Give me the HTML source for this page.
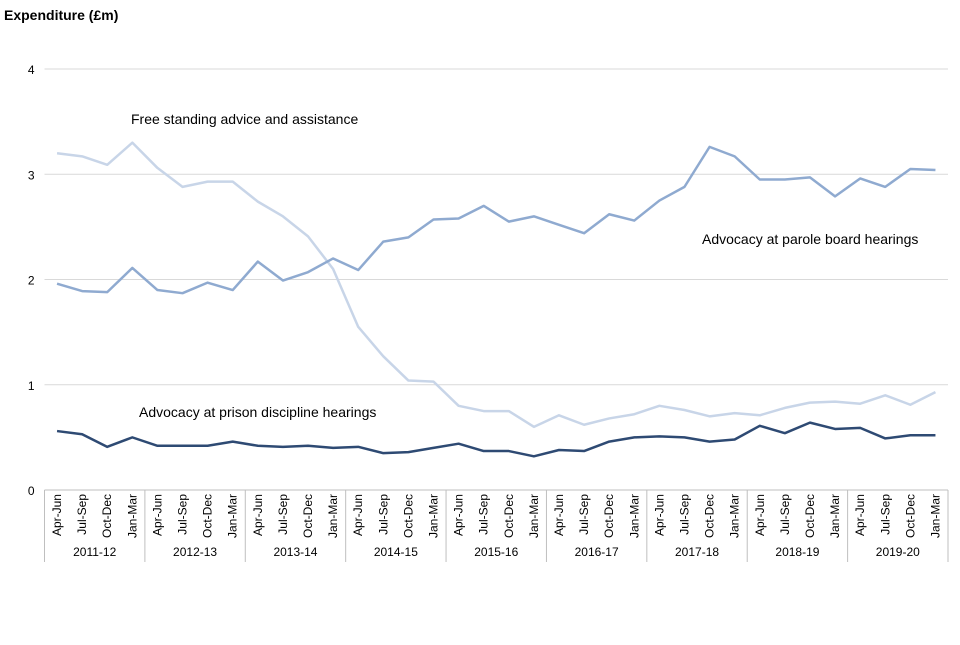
<!DOCTYPE html>
<html><head><meta charset="utf-8"><style>
body{margin:0;background:#fff;font-family:"Liberation Sans",Arial,sans-serif;}
svg text{font-family:"Liberation Sans",Arial,sans-serif;fill:#000;}
</style></head><body>
<svg id="chart" width="960" height="640" xmlns="http://www.w3.org/2000/svg">
<text x="4" y="20" font-size="14" font-weight="bold">Expenditure (£m)</text>
<g id="grid"></g><g id="axes"></g><g id="series"></g>
<text x="131" y="124" font-size="14">Free standing advice and assistance</text>
<text x="702" y="244" font-size="14">Advocacy at parole board hearings</text>
<text x="139" y="417" font-size="14">Advocacy at prison discipline hearings</text>
</svg>
<script>
const quarters=["Apr-Jun","Jul-Sep","Oct-Dec","Jan-Mar"];
const years=["2011-12","2012-13","2013-14","2014-15","2015-16","2016-17","2017-18","2018-19","2019-20"];
const yTicks=[0,1,2,3,4];
const parole=[1.96,1.89,1.88,2.11,1.90,1.87,1.97,1.90,2.17,1.99,2.07,2.20,2.09,2.36,2.40,2.57,2.58,2.70,2.55,2.60,2.52,2.44,2.62,2.56,2.75,2.88,3.26,3.17,2.95,2.95,2.97,2.79,2.96,2.88,3.05,3.04];
const freeStanding=[3.20,3.17,3.09,3.30,3.06,2.88,2.93,2.93,2.74,2.60,2.41,2.10,1.55,1.27,1.04,1.03,0.80,0.75,0.75,0.60,0.71,0.62,0.68,0.72,0.80,0.76,0.70,0.73,0.71,0.78,0.83,0.84,0.82,0.90,0.81,0.93];
const prison=[0.56,0.53,0.41,0.50,0.42,0.42,0.42,0.46,0.42,0.41,0.42,0.40,0.41,0.35,0.36,0.40,0.44,0.37,0.37,0.32,0.38,0.37,0.46,0.50,0.51,0.50,0.46,0.48,0.61,0.54,0.64,0.58,0.59,0.49,0.52,0.52];
const NS="http://www.w3.org/2000/svg";
const L=44.5,R=948,T=69,B=490,n=parole.length,step=(R-L)/n;
const x=i=>L+step*(i+0.5), y=v=>B-(v/4)*(B-T);
function mk(tag,attrs,parent){const e=document.createElementNS(NS,tag);for(const k in attrs)e.setAttribute(k,attrs[k]);document.getElementById(parent).appendChild(e);return e;}
yTicks.forEach(t=>{
 if(t>0){const g=mk('line',{x1:L,x2:R,y1:y(t),y2:y(t),stroke:'#d9d9d9','stroke-width':1},'grid');
 
 }
 const tx=mk('text',{x:L-10,y:y(t)+5,'font-size':12,'text-anchor':'end'},'axes');tx.textContent=t;
 
 
});
const ax=mk('line',{x1:L,x2:R,y1:B,y2:B,stroke:'#bfbfbf'},'axes');


for(let i=0;i<n;i++){
 const q=quarters[i%4];
 const t=mk('text',{x:0,y:0,'font-size':12,'text-anchor':'end',transform:`translate(${x(i)+4},494) rotate(-90)`},'axes');t.textContent=q;
 
 
}
for(let j=0;j<=years.length;j++){
 const xx=L+step*4*j;
 const s=mk('line',{x1:xx,x2:xx,y1:B,y2:562,stroke:'#bfbfbf'},'axes');
 
 
 if(j<years.length){const yt=mk('text',{x:xx+step*2,y:556,'font-size':12,'text-anchor':'middle'},'axes');yt.textContent=years[j];
 
 }
}
function line(data,color,name){
 const p=mk('polyline',{points:data.map((v,i)=>x(i)+','+y(v)).join(' '),fill:'none',stroke:color,'stroke-width':2.5,'stroke-linejoin':'round'},'series');
 
 
}
line(freeStanding,'#c8d5e8','line-free-standing');
line(parole,'#8faad0','line-parole');
line(prison,'#2e4a73','line-prison');
</script>
</body></html>
